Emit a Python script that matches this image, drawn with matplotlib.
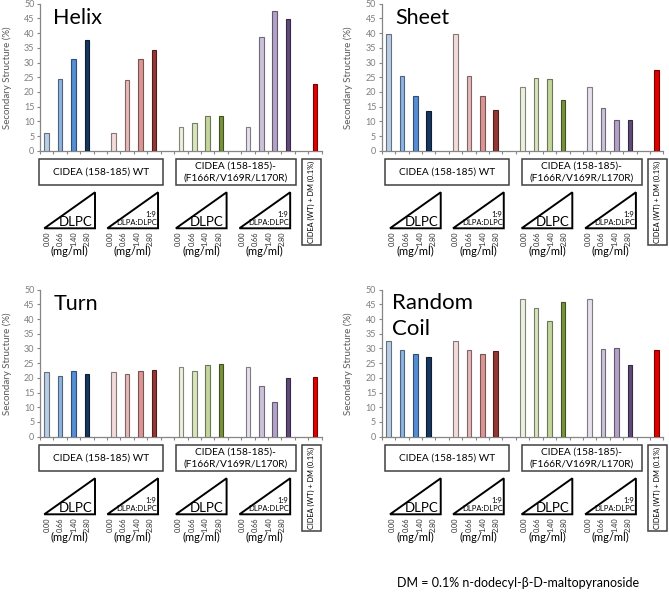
import matplotlib
matplotlib.use("Agg")
import matplotlib.pyplot as plt
from matplotlib.patches import Rectangle, Polygon
import matplotlib.colors as mcolors

plt.rcParams['font.family'] = ['Lato', 'DejaVu Sans']

# ---------------- data ----------------
titles = ["Helix", "Sheet", "Turn", "Random\nCoil"]
helix = [5.9, 24.5, 31.3, 37.8, 5.9, 24.0, 31.1, 34.4, 8.0, 9.3, 11.8, 11.8, 8.0, 38.8, 47.5, 44.8, 22.7]
sheet = [39.8, 25.3, 18.6, 13.5, 39.8, 25.3, 18.6, 13.8, 21.5, 24.7, 24.4, 17.4, 21.5, 14.5, 10.3, 10.3, 27.3]
turn = [21.9, 20.6, 22.2, 21.3, 21.9, 21.2, 22.2, 22.7, 23.7, 22.4, 24.4, 24.7, 23.7, 17.2, 11.9, 20.1, 20.4]
coil = [32.5, 29.4, 28.0, 27.2, 32.5, 29.4, 28.0, 29.1, 46.7, 43.7, 39.5, 45.9, 46.7, 29.7, 30.2, 24.4, 29.5]
series = [helix, sheet, turn, coil]

group_sizes = [4, 4, 4, 4, 1]
concentrations = ["0.00", "0.66", "1.40", "2.80"]
lipid_labels = ["DLPC", "DLPA", "DLPC", "DLPA"]
box_labels = ["CIDEA (158-185) WT", "CIDEA (158-185)-\n(F166R/V169R/L170R)", "CIDEA (WT) + DM (0.1%)"]
ylabel = "Secondary Structure (%)"
footnote = "DM = 0.1% n-dodecyl-\u03b2-D-maltopyranoside"

colors = ['#b9cde5', '#8eb4e3', '#558ed5', '#17375e',
          '#f2dcdb', '#e6b9b8', '#d99694', '#953735',
          '#ebf1de', '#d7e4bd', '#c3d69b', '#77933c',
          '#e6e0ec', '#ccc1da', '#b3a2c7', '#604a7b',
          '#e00000']

# category positions (one empty slot between groups)
positions = []
start = 0
for g in group_sizes:
    positions += list(range(start, start + g))
    start += g + 1
ncat = start - 1  # 21 slots

def darker(c, f=0.55):
    r, g, b = mcolors.to_rgb(c)
    return (r * f, g * f, b * f)

W, H = 669, 603
fig = plt.figure(figsize=(W / 100, H / 100), dpi=100)

panel_px = [(40, 150.7, 0.0), (381.7, 150.7, 0.3), (40, 436.7, 0.0), (381.7, 436.7, 0.3)]
AW, AH = 281.7, 147.0
AXC = '#868686'
TXT = '#595959'

tri_left = [-0.18, 4.52, 9.63, 14.37]
tri_w = 3.78

for vals, title, (L, Y0, sh) in zip(series, titles, panel_px):
    ax = fig.add_axes([L / W, 1 - Y0 / H, AW / W, AH / H])
    ax.bar(positions, vals, width=0.34, color=colors,
           edgecolor=[darker(c) for c in colors], linewidth=0.8, zorder=3)
    ax.set_xlim(-0.5, ncat - 0.5)
    ax.set_ylim(0, 50)
    ax.set_yticks(range(0, 51, 5))
    ax.set_xticks([i - 0.5 for i in range(ncat + 1)])
    ax.set_xticklabels([])
    ax.tick_params(axis='x', direction='out', length=2.5, width=0.8, color=AXC)
    ax.tick_params(axis='y', direction='out', length=2.5, width=0.8, color=AXC,
                   labelsize=6.5, labelcolor='#7f7f7f', pad=1.5)
    for s in ['top', 'right']:
        ax.spines[s].set_visible(False)
    for s in ['left', 'bottom']:
        ax.spines[s].set_color(AXC)
        ax.spines[s].set_linewidth(0.9)
    fig.text((L - 33) / W, 1 - (Y0 - AH / 2) / H, ylabel, rotation=90, ha='center',
             va='center', fontsize=7, color=TXT)
    if "\n" in title:
        ax.text(0.035, 0.98, title, transform=ax.transAxes, fontsize=16,
                ha='left', va='top', linespacing=1.4)
    else:
        ax.text(0.047, 0.90, title, transform=ax.transAxes, fontsize=15.5,
                ha='left', va='center')

    # annotation area below the axis (y in pixels below the axis line)
    an = fig.add_axes([L / W, 1 - (Y0 + 112) / H, AW / W, 112 / H])
    an.set_xlim(-0.5, ncat - 0.5)
    an.set_ylim(112, 0)
    an.axis('off')
    lw = 1.1
    ec = '#404040'
    # boxes
    an.add_patch(Rectangle((-0.57 + sh, 8.3), 9.27, 26, fill=False, lw=lw, ec=ec, clip_on=False))
    an.text(-0.57 + sh + 9.27 / 2, 21.5, box_labels[0], ha='center', va='center', fontsize=7.3)
    an.add_patch(Rectangle((9.63 + sh, 8.3), 8.95, 26, fill=False, lw=lw, ec=ec, clip_on=False))
    an.text(9.63 + sh + 8.95 / 2, 21.5, box_labels[1], ha='center', va='center', fontsize=7.3,
            linespacing=1.45)
    an.add_patch(Rectangle((19.03 + sh, 8.3), 1.45, 86, fill=False, lw=lw, ec=ec, clip_on=False))
    an.text(19.03 + sh + 0.72, 51, box_labels[2], ha='center', va='center', fontsize=5.3,
            rotation=90)
    # triangles
    for k, tl in enumerate(tri_left):
        x0 = tl + sh
        x1 = x0 + tri_w
        an.add_patch(Polygon([(x0, 77.6), (x1, 77.6), (x1, 41.6)], closed=True,
                             fill=False, lw=1.4, ec='black', joinstyle='miter', clip_on=False))
        if lipid_labels[k] == "DLPC":
            an.text(x1 - 0.2, 75.0, "DLPC", ha='right', va='baseline', fontsize=9.5)
        else:
            an.text(x1 - 0.12, 63.5, "1:9", ha='right', va='center', fontsize=5.5)
            an.text(x1 - 0.08, 72.0, "DLPA:DLPC", ha='right', va='center', fontsize=5.5)
        for j, c in enumerate(concentrations):
            an.text(x0 + 0.2 + j * 1.0, 81.0, c, ha='center', va='top', rotation=90, fontsize=5.3,
                    color='#303030')
        an.text(x0 + tri_w / 2, 101, "(mg/ml)", ha='center', va='center', fontsize=8)

fig.text(518 / W, 1 - 583 / H, footnote, ha='center', va='center', fontsize=9)

fig.savefig("out.png", dpi=100)
